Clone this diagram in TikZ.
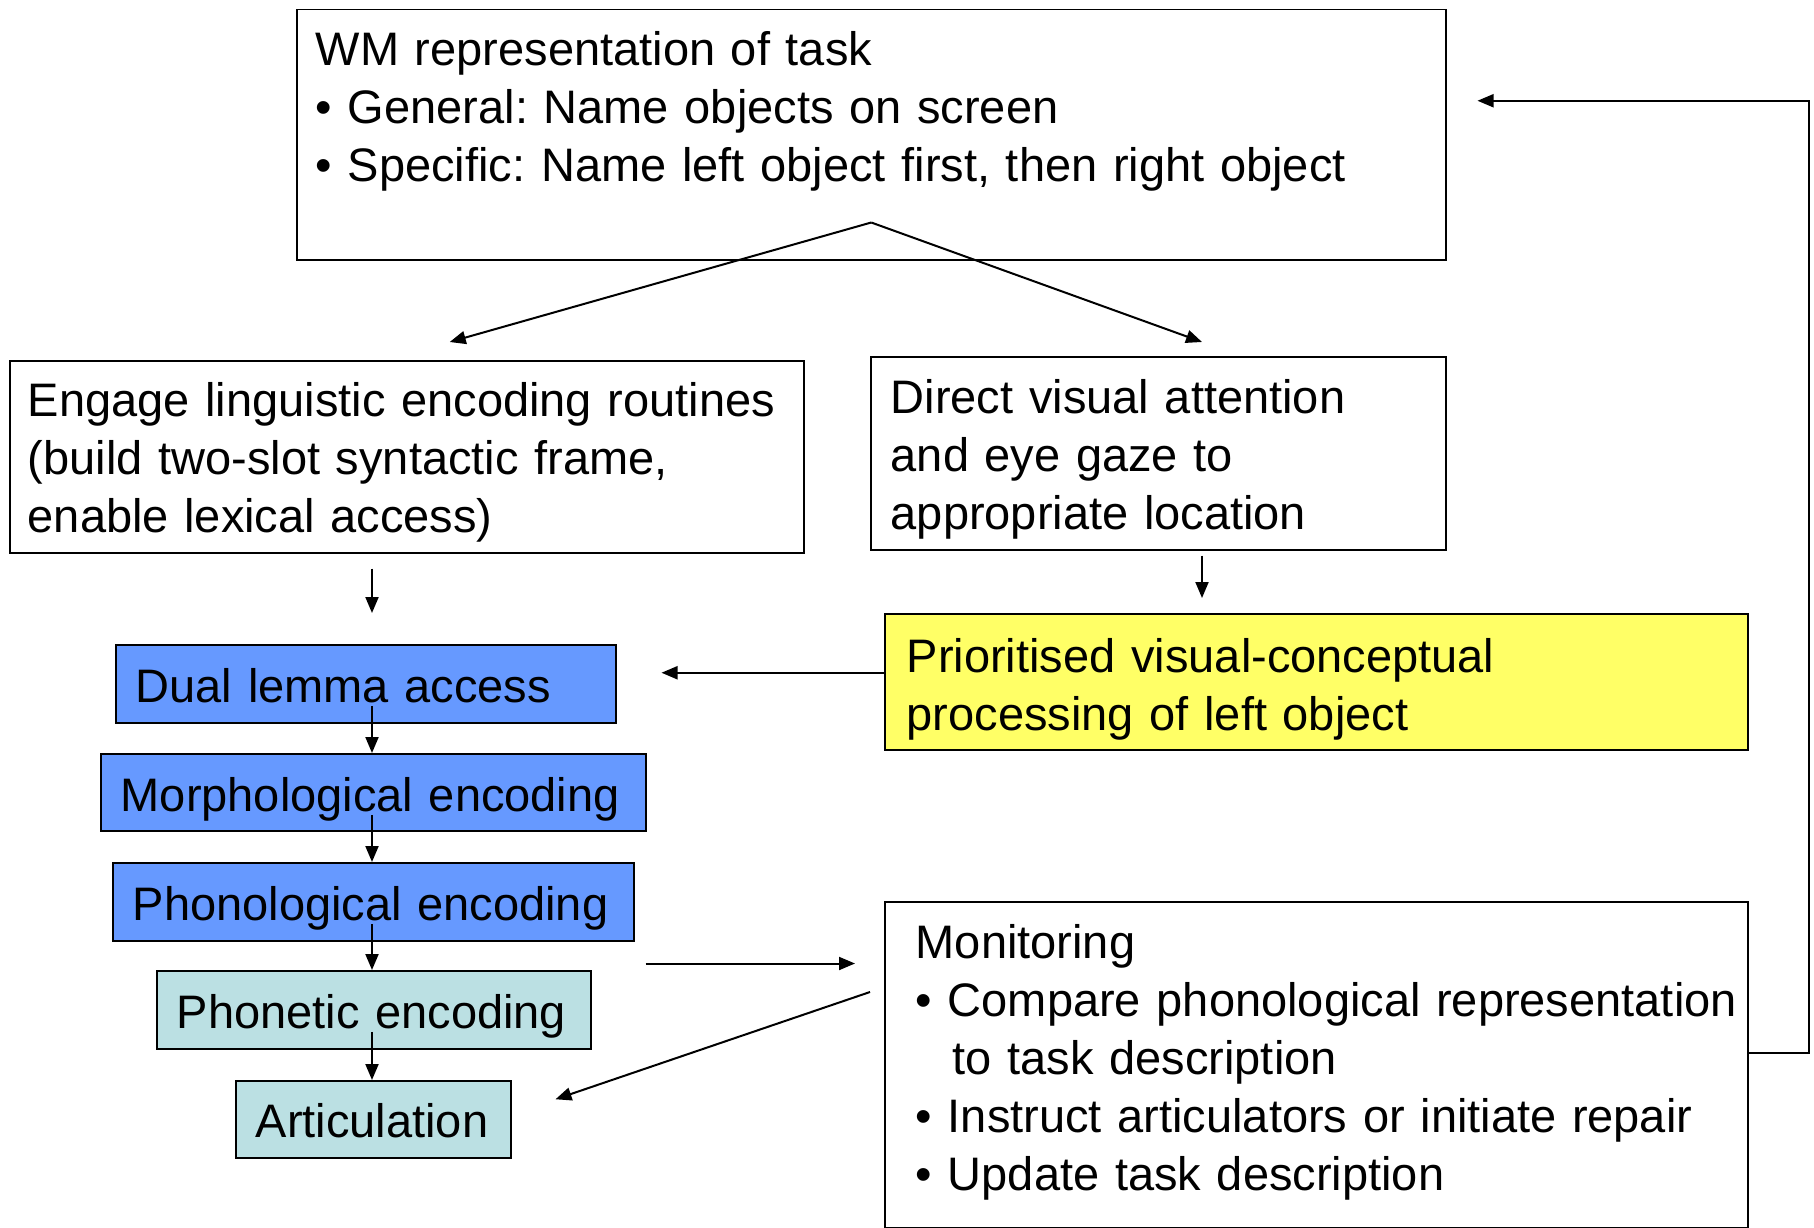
\documentclass[tikz,border=0pt]{standalone}
\usepackage{fontspec}
\setmainfont{Liberation Sans}
\usetikzlibrary{arrows.meta,calc}

\definecolor{lemmablue}{RGB}{102,153,255}
\definecolor{phonecyan}{RGB}{187,224,227}
\definecolor{notice}{RGB}{255,255,102}

% no hyphens in the box texts
\hyphenpenalty=10000
\exhyphenpenalty=10000
\frenchspacing

\begin{document}
\begin{tikzpicture}
    [ x=1pt, y=-1pt
    , every node/.style={font=\fontsize{47pt}{58pt}\selectfont}
    , box/.style={draw, line width=1.5pt, anchor=north west, align=left, inner ysep=0pt}
    , stage/.style={box, text height=58pt, text depth=20pt, inner xsep=20pt}
    , arr/.style={-{Triangle[length=16pt,width=13pt]}, line width=2pt}
    ]
\useasboundingbox[fill=white] (0,0) rectangle (1814,1228);

% task description and the two routes
\node[box, text width=1111pt, inner xsep=19pt, text height=56pt, text depth=194pt]
    (wm) at (296,9)
    {WM representation of task\\
     \textbullet{} General: Name objects on screen\\
     \textbullet{} Specific: Name left object first, then right object};
\node[box, text width=758pt, inner xsep=18pt, text height=56pt, text depth=136pt]
    (engage) at (9,360)
    {Engage~linguistic~encoding~routines\\
     (build two-slot syntactic frame,\\
     enable lexical access)};
\node[box, text width=535pt, inner xsep=20pt, text height=57pt, text depth=136pt]
    (direct) at (870,356)
    {Direct visual attention\\
     and eye gaze to\\
     appropriate location};
\node[box, fill=notice, text width=819pt, inner xsep=22pt, text height=59pt, text depth=77pt]
    (prior) at (884,613)
    {Prioritised visual-conceptual\\
     processing of left object};
\node[box, text width=801pt, inner xsep=31pt, text height=57pt, text depth=269pt]
    (monitor) at (884,901)
    {Monitoring\\
     \textbullet{}~Compare~phonological~representation\\
     \hspace*{37pt}to task description\\
     \textbullet{} Instruct articulators or initiate repair\\
     \textbullet{} Update task description};

% production stages
\node[stage, fill=lemmablue, text width=460pt] (lemma)    at (115,644)  {Dual lemma access};
\node[stage, fill=lemmablue, text width=505pt, text depth=19pt] (morph) at (100,753) {Morphological~encoding};
\node[stage, fill=lemmablue, text width=481pt] (phono)    at (112,862)  {Phonological~encoding};
\node[stage, fill=phonecyan, text width=394pt] (phonetic) at (156,970)  {Phonetic~encoding};
\node[stage, fill=phonecyan, text width=235pt, text height=57pt] (artic) at (235,1080) {Articulation};

\coordinate (split) at ($(wm.south)+(0,-38)$);
\coordinate (spine) at (372,0);
\coordinate (rcol) at (1202,0);

\draw[arr] (split) -- ($(engage.north)+(43,-18)$);
\draw[arr] (split) -- ([yshift=14pt]rcol |- direct.north);
\draw[arr] ([yshift=-15pt]spine |- engage.south) -- ([yshift=31pt]spine |- lemma.north);
\draw[arr] ([yshift=-5pt]rcol |- direct.south) -- ([yshift=15pt]rcol |- prior.north);
\draw[arr, shorten >=45pt] (prior.base west) -- (prior.base west -| lemma.east);
\foreach \a/\b in {lemma/morph, morph/phono, phono/phonetic, phonetic/artic}
    \draw[arr] ([yshift=-3pt]spine |- \a.base) -- (spine |- \b.north);
\draw[arr] ($(phono.south east)+(11,22)$) -- ($(monitor.west |- phono.south)+(-29,22)$);
\draw[arr] ($(monitor.north west)+(-14,91)$) -- ($(artic.east)+(44,-20)$);
% feedback to the task representation
\draw[arr] ($(monitor.east)+(0,-12)$) -- ++(60,0) |- ($(wm.east)+(31,-34)$);
\end{tikzpicture}
\end{document}
